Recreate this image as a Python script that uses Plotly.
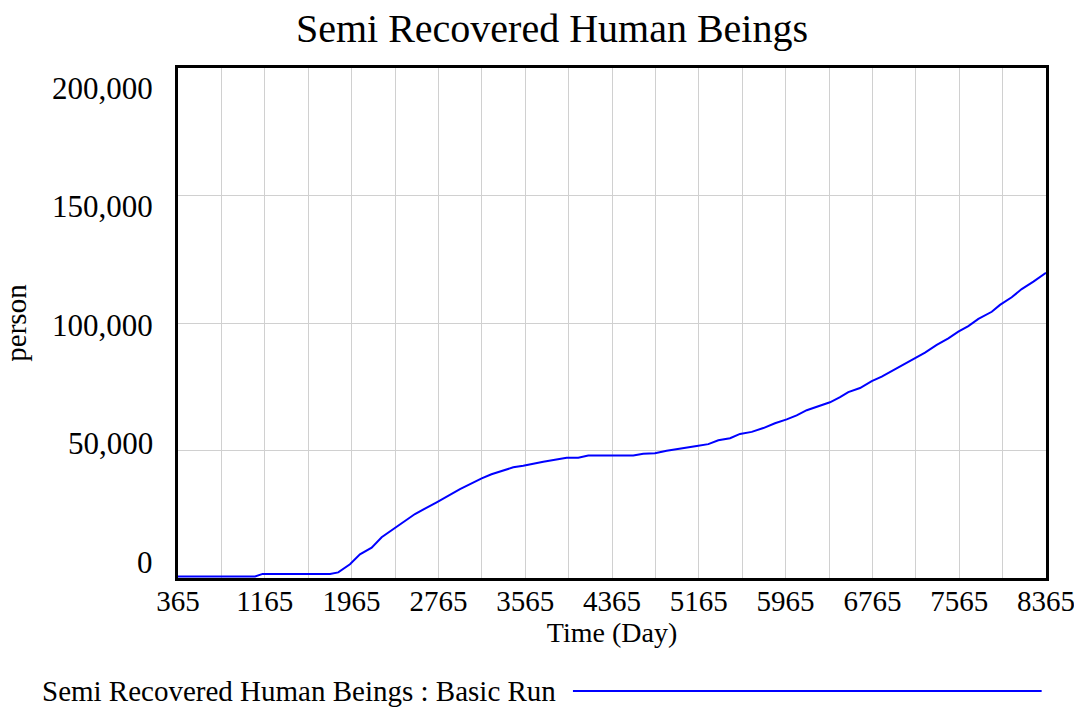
import plotly.graph_objects as go

# run output
time_days = [
    365, 1075, 1145, 1766, 1842, 1950, 2042, 2150, 2242, 2441, 2549, 2749,
    2841, 2964, 3164, 3254, 3455, 3547, 3732, 3947, 4054, 4146, 4561, 4653,
    4761, 4869, 5146, 5253, 5345, 5453, 5545, 5653, 5760, 5867, 5975, 6067,
    6160, 6267, 6374, 6467, 6543, 6651, 6759, 6851, 6958, 7158, 7250, 7358,
    7465, 7557, 7649, 7742, 7865, 7941, 8049, 8141, 8249, 8365,
]
semi_recovered = [
    600, 600, 1600, 1600, 2200, 5400, 9300, 11900, 16000, 21700, 25100, 29700,
    31900, 34900, 39100, 40700, 43400, 44000, 45600, 47200, 47200, 48000, 48000, 48700,
    48900, 49900, 51800, 52500, 54000, 54800, 56500, 57300, 58800, 60700, 62200, 63800,
    65800, 67500, 68900, 70900, 72900, 74500, 77200, 79000, 81600, 86200, 88400, 91400,
    94000, 96600, 98800, 101600, 104400, 107100, 110100, 113300, 116200, 119700,
]

x_grid = list(range(365, 8366, 400))
x_labels = [str(v) if (v - 365) % 800 == 0 else "" for v in x_grid]
y_ticks = [0, 50000, 100000, 150000, 200000]
y_labels = ["0", "50,000", "100,000", "150,000", "200,000"]

FONT = "Liberation Serif, Times New Roman, serif"

fig = go.Figure()
fig.add_trace(
    go.Scatter(
        x=time_days,
        y=semi_recovered,
        mode="lines",
        line=dict(color="#0000ff", width=2),
        name="Semi Recovered Human Beings : Basic Run",
        showlegend=False,
    )
)

# y tick labels, spread inward the way Vensim draws them
annotations = []
for v, txt in zip(y_ticks, y_labels):
    annotations.append(
        dict(
            x=0, xref="paper", xanchor="right", xshift=-23,
            y=v, yref="y", yanchor="middle", yshift=16 - 36 * v / 200000,
            text=txt, showarrow=False,
            font=dict(family=FONT, size=31, color="black"),
        )
    )

annotations.append(
    dict(
        x=-0.187, xref="paper", xanchor="center",
        y=0.5, yref="paper", yanchor="middle",
        text="person", textangle=-90, showarrow=False,
        font=dict(family=FONT, size=29, color="black"),
    )
)

# legend row: label then long line sample
annotations.append(
    dict(
        x=-0.159, xref="paper", xanchor="left",
        y=-0.2216, yref="paper", yanchor="middle",
        text="Semi Recovered Human Beings : Basic Run", showarrow=False,
        font=dict(family=FONT, size=29, color="black"),
    )
)

fig.add_shape(
    type="line", xref="paper", yref="paper",
    x0=0.455, x1=0.995, y0=-0.2216, y1=-0.2216,
    line=dict(color="#0000ff", width=2),
)

fig.update_xaxes(
    range=[365, 8365],
    tickvals=x_grid,
    ticktext=x_labels,
    showgrid=True,
    gridcolor="#d0d0d0",
    gridwidth=1,
    zeroline=False,
    showline=True,
    linecolor="black",
    linewidth=3,
    mirror=True,
    ticks="",
    automargin=False,
    ticklabelstandoff=-5,
    tickfont=dict(family=FONT, size=29, color="black"),
    title=dict(text="Time (Day)", font=dict(family=FONT, size=28, color="black"), standoff=2),
)
fig.update_yaxes(
    range=[0, 200000],
    tickvals=y_ticks,
    showticklabels=False,
    showgrid=True,
    gridcolor="#d0d0d0",
    gridwidth=1,
    zeroline=False,
    showline=True,
    linecolor="black",
    linewidth=3,
    mirror=True,
    ticks="",
    automargin=False,
)

# page body has an 8px margin, so the figure is 8px smaller than the window
fig.update_layout(
    width=1074,
    height=700,
    margin=dict(l=170, r=36, t=60, b=130),
    paper_bgcolor="white",
    plot_bgcolor="white",
    title=dict(
        text="Semi Recovered Human Beings",
        x=0.5065, xanchor="center",
        y=1 - 20 / 700, yanchor="middle",
        font=dict(family=FONT, size=40, color="black"),
    ),
    annotations=annotations,
)

fig.write_html("out.html")
